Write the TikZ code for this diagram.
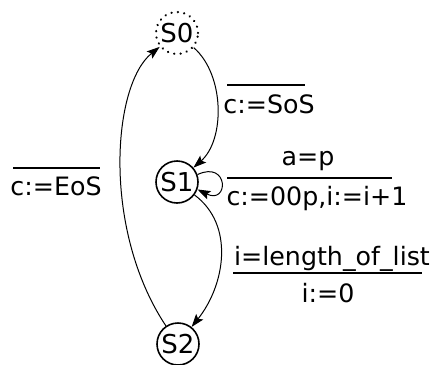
\documentclass[tikz,border=0pt]{standalone}
\usepackage{fontspec}
\setmainfont{DejaVu Sans}
\usetikzlibrary{arrows.meta}
\begin{document}
\begin{tikzpicture}[x=1pt,y=-1pt,
  state/.style={circle,draw,line width=1.6pt,minimum size=42pt,inner sep=0pt,font=\fontsize{26}{30}\selectfont},
  initstate/.style={state,draw,dash pattern=on 0.1pt off 6.3pt,line cap=round,line width=2.4pt},
  edge/.style={line width=1pt,-{Stealth[length=13pt,width=9pt,inset=2.5pt]}},
  lbl/.style={font=\fontsize{25.3}{30}\selectfont,inner sep=0pt,anchor=base},
  bar/.style={line width=2pt}]
\useasboundingbox (0,0) rectangle (435,364);
\node[initstate] (S0) at (177,33) {S0};
\node[state] (S1) at (177,182) {S1};
\node[state] (S2) at (178,344) {S2};
% edges
\draw[edge] (S0) .. controls (225,75) and (225,140) .. (S1);
\draw[edge] (S1.20) .. controls (229,160) and (229,205) .. (S1.-20);
\draw[edge] (S1) .. controls (235,225) and (225,285) .. (S2);
\draw[edge] (S2) .. controls (102,230) and (112,85) .. (S0);
% labels
\node[lbl] (sos) at (269,113) {c:=SoS};
\coordinate (sosA) at (227,85); \coordinate (sosB) at (305,85);
\draw[bar] (sosA) -- (sosB);
\node[lbl] (eos) at (56,195) {c:=EoS};
\coordinate (eosA) at (13,168); \coordinate (eosB) at (100,168);
\draw[bar] (eosA) -- (eosB);
\node[lbl] (ap) at (308,165) {a=p};
\coordinate (apA) at (227,178); \coordinate (apB) at (392,178);
\draw[bar] (apA) -- (apB);
\node[lbl] (cop) at (317,205) {c:=00p,i:=i+1};
\node[lbl] (len) at (332,265) {i=length\_of\_list};
\coordinate (lenA) at (233,273); \coordinate (lenB) at (422,273);
\draw[bar] (lenA) -- (lenB);
\node[lbl] (iz) at (328,302) {i:=0};
\end{tikzpicture}
\end{document}
